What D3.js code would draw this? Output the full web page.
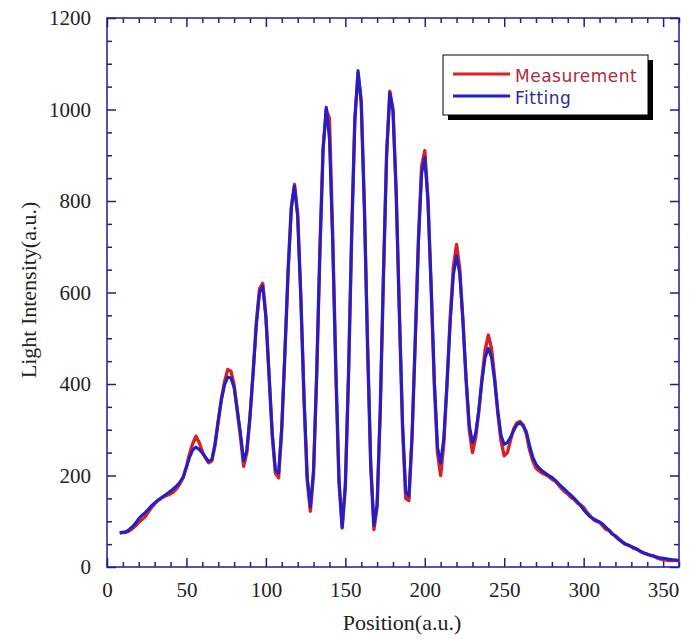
<!DOCTYPE html>
<html>
<head>
<meta charset="utf-8">
<script src="https://cdn.jsdelivr.net/npm/d3@7"></script>
<style>
  body { margin: 0; background: #fff; }
</style>
</head>
<body>
<div id="chart"></div>
<script>
// positions (a.u.), sampled every 2 units from 8 to 360
var positions = d3.range(8, 361, 2);

var fitting = [
    75, 76, 77, 82, 88, 96, 106, 113, 119, 126,
    134, 140, 146, 151, 156, 161, 166, 172, 178, 186,
    197, 218, 240, 256, 262, 257, 249, 240, 231, 235,
    270, 320, 365, 398, 415, 413, 392, 345, 292, 232,
    255, 330, 425, 530, 600, 614, 545, 420, 292, 212,
    205, 308, 472, 646, 782, 833, 766, 591, 373, 198,
    131, 211, 423, 689, 911, 1005, 935, 716, 436, 193,
    87, 179, 420, 725, 978, 1085, 1014, 787, 486, 225,
    91, 137, 346, 638, 902, 1036, 997, 818, 560, 315,
    165, 155, 288, 493, 709, 860, 895, 799, 615, 408,
    262, 227, 283, 402, 535, 638, 680, 641, 539, 413,
    311, 272, 292, 343, 407, 458, 478, 458, 406, 340,
    288, 268, 272, 284, 299, 311, 315, 308, 295, 265,
    240, 225, 216, 210, 205, 200, 196, 190, 183, 176,
    170, 163, 157, 150, 143, 134, 125, 117, 110, 106,
    102, 98, 94, 87, 80, 73, 67, 60, 55, 51,
    48, 45, 42, 38, 34, 31, 28, 26, 24, 22,
    20, 19, 18, 17, 16, 15, 14
];

var measurement = [
    74, 75, 76, 79, 84, 90, 98, 104, 110, 120,
    130, 138, 145, 150, 154, 157, 160, 165, 172, 183,
    196, 220, 248, 270, 286, 272, 252, 238, 228, 232,
    266, 318, 368, 405, 432, 428, 398, 340, 285, 220,
    250, 328, 428, 535, 608, 620, 550, 418, 288, 205,
    195, 300, 470, 650, 788, 836, 772, 588, 365, 190,
    122, 205, 425, 695, 915, 1000, 980, 730, 430, 185,
    85, 175, 418, 730, 980, 1080, 1020, 785, 480, 218,
    82, 132, 345, 640, 905, 1040, 1000, 820, 555, 305,
    150, 145, 285, 495, 715, 875, 910, 805, 612, 400,
    250, 200, 272, 400, 545, 655, 705, 652, 540, 408,
    300, 250, 282, 340, 412, 475, 507, 478, 412, 335,
    275, 243, 250, 278, 302, 315, 318, 310, 290, 255,
    232, 216, 210, 205, 202, 198, 192, 188, 180, 172,
    165, 160, 152, 148, 140, 136, 130, 120, 112, 104,
    100, 98, 90, 82, 80, 72, 68, 62, 56, 50,
    48, 44, 40, 38, 33, 30, 28, 25, 24, 20,
    18, 16, 15, 14, 14, 15, 13
];

var xTicks = [0, 50, 100, 150, 200, 250, 300, 350];
var yTicks = [0, 200, 400, 600, 800, 1000, 1200];
var seriesNames = ["Measurement", "Fitting"];

var margin = { top: 18, bottom: 72, left: 107, right: 10 };
var width = 689 - margin.left - margin.right;
var height = 639 - margin.top - margin.bottom;

var axisColor = "#1e1e8a";
var redColor = "#d62222";
var blueColor = "#1f1fcc";

var svg = d3.select("#chart").append("svg")
    .attr("width", 689)
    .attr("height", 639);

var g = svg.append("g")
    .attr("transform", "translate(" + margin.left + " " + margin.top + ")");

var x = d3.scaleLinear().domain([0, 360]).range([0, width]);
var y = d3.scaleLinear().domain([0, 1200]).range([height, 0]);

var xMinor = d3.range(0, 361, 10).filter(function(d) { return d % 50 !== 0; });
var yMinor = d3.range(0, 1201, 50).filter(function(d) { return d % 200 !== 0; });

function styleAxis(sel) {
    sel.select(".domain").remove();
    sel.selectAll("line").attr("stroke", axisColor).attr("stroke-width", 1.5);
    sel.selectAll("text")
        .attr("font-family", "'Liberation Serif', 'Times New Roman', serif")
        .attr("font-size", "21px")
        .attr("fill", "#222");
}

// bottom axis, ticks inward
g.append("g").attr("transform", "translate(0," + height + ")")
    .call(d3.axisBottom(x).tickValues(xTicks).tickSizeInner(-9).tickSizeOuter(0).tickPadding(15).tickFormat(d3.format("d")))
    .call(styleAxis);
g.append("g").attr("transform", "translate(0," + height + ")")
    .call(d3.axisBottom(x).tickValues(xMinor).tickSizeInner(-5).tickSizeOuter(0).tickFormat(""))
    .call(styleAxis);

// top axis (ticks only)
g.append("g")
    .call(d3.axisTop(x).tickValues(xTicks).tickSizeInner(-9).tickSizeOuter(0).tickFormat(""))
    .call(styleAxis);
g.append("g")
    .call(d3.axisTop(x).tickValues(xMinor).tickSizeInner(-5).tickSizeOuter(0).tickFormat(""))
    .call(styleAxis);

// left axis
g.append("g")
    .call(d3.axisLeft(y).tickValues(yTicks).tickSizeInner(-9).tickSizeOuter(0).tickPadding(16).tickFormat(d3.format("d")))
    .call(styleAxis);
g.append("g")
    .call(d3.axisLeft(y).tickValues(yMinor).tickSizeInner(-5).tickSizeOuter(0).tickFormat(""))
    .call(styleAxis);

// right axis (ticks only)
g.append("g").attr("transform", "translate(" + width + ",0)")
    .call(d3.axisRight(y).tickValues(yTicks).tickSizeInner(-9).tickSizeOuter(0).tickFormat(""))
    .call(styleAxis);
g.append("g").attr("transform", "translate(" + width + ",0)")
    .call(d3.axisRight(y).tickValues(yMinor).tickSizeInner(-5).tickSizeOuter(0).tickFormat(""))
    .call(styleAxis);

// frame
g.append("rect")
    .attr("x", 0).attr("y", 0)
    .attr("width", width).attr("height", height)
    .attr("fill", "none")
    .attr("stroke", axisColor)
    .attr("stroke-width", 1.5);

// lines
var line = d3.line()
    .x(function(d) { return x(d[0]); })
    .y(function(d) { return y(d[1]); });

g.append("path")
    .datum(positions.map(function(p, i) { return [p, measurement[i]]; }))
    .attr("d", line)
    .attr("fill", "none")
    .attr("stroke", redColor)
    .attr("stroke-width", 3.4)
    .attr("stroke-linejoin", "round");

g.append("path")
    .datum(positions.map(function(p, i) { return [p, fitting[i]]; }))
    .attr("d", line)
    .attr("fill", "none")
    .attr("stroke", blueColor)
    .attr("stroke-width", 3)
    .attr("stroke-linejoin", "round");

// axis labels
svg.append("text")
    .attr("x", 402)
    .attr("y", 630)
    .attr("text-anchor", "middle")
    .attr("font-family", "'Liberation Serif', 'Times New Roman', serif")
    .attr("font-size", "22px")
    .attr("fill", "#222")
    .text("Position(a.u.)");

svg.append("text")
    .attr("transform", "translate(36 290) rotate(-90)")
    .attr("text-anchor", "middle")
    .attr("font-family", "'Liberation Serif', 'Times New Roman', serif")
    .attr("font-size", "22px")
    .attr("fill", "#222")
    .text("Light Intensity(a.u.)");

// legend
var lg = svg.append("g").attr("transform", "translate(443 55)");
lg.append("rect")
    .attr("x", 5).attr("y", 5)
    .attr("width", 205).attr("height", 60)
    .attr("fill", "#000");
lg.append("rect")
    .attr("x", 0).attr("y", 0)
    .attr("width", 205).attr("height", 60)
    .attr("fill", "#fff")
    .attr("stroke", "#000")
    .attr("stroke-width", 1);

var legendColors = [redColor, blueColor];
var legendText = ["#b02a3a", "#2a2a9e"];
seriesNames.forEach(function(name, i) {
    lg.append("line")
        .attr("x1", 10).attr("x2", 67)
        .attr("y1", 19 + i * 22).attr("y2", 19 + i * 22)
        .attr("stroke", legendColors[i])
        .attr("stroke-width", 3);
    lg.append("text")
        .attr("x", 72)
        .attr("y", 26.5 + i * 22.5)
        .attr("font-family", "'DejaVu Sans', Verdana, sans-serif")
        .attr("font-size", "17px")
        .attr("letter-spacing", "0.5px")
        .attr("fill", legendText[i])
        .text(name);
});
</script>
</body>
</html>
